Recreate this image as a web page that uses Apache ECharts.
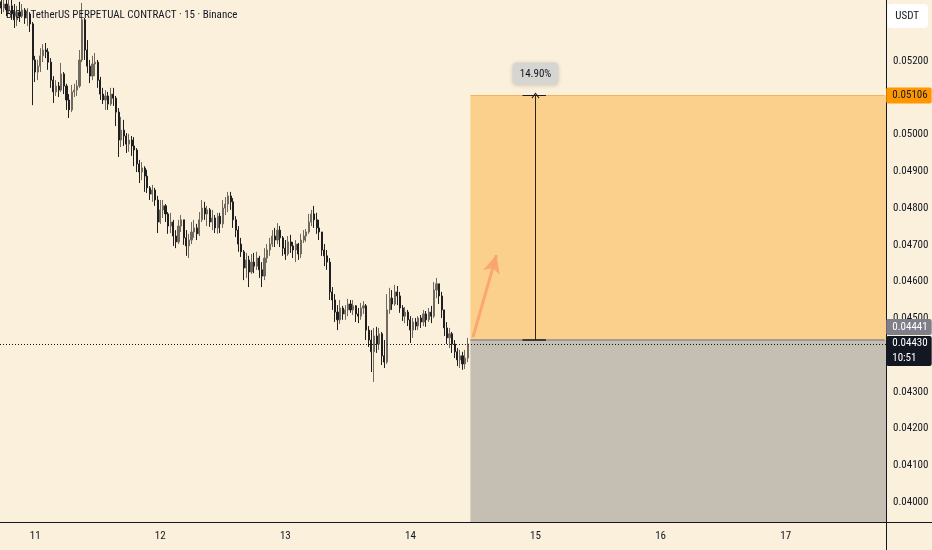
<!DOCTYPE html>
<html><head><meta charset="utf-8">
<script src="https://cdn.jsdelivr.net/npm/echarts@6/dist/echarts.min.js"></script>
<style>html,body{margin:0;padding:0;background:#fbf0dc}#c{width:932px;height:550px}</style>
</head><body><div id="c"></div>
<script>
// ---------------- data ----------------
const titleText = 'BIO / TetherUS PERPETUAL CONTRACT · 15 · Binance';
const currency = 'USDT';
// 30-minute candles [open, close, low, high], starting 10 17:30
const candles = [
[0.05361,0.05344,0.05328,0.05393],[0.05344,0.05355,0.05333,0.05388],[0.05355,0.05339,0.05322,0.05371],[0.05339,0.05350,0.05328,0.05382],
[0.05350,0.05328,0.05312,0.05366],[0.05328,0.05312,0.05290,0.05355],[0.05312,0.05333,0.05295,0.05350],[0.05333,0.05322,0.05306,0.05361],
[0.05322,0.05339,0.05317,0.05355],[0.05339,0.05317,0.05301,0.05344],[0.05317,0.05328,0.05295,0.05344],[0.05328,0.05301,0.05279,0.05333],
[0.05301,0.05203,0.05080,0.05306],[0.05203,0.05170,0.05143,0.05214],[0.05170,0.05186,0.05148,0.05203],[0.05186,0.05214,0.05170,0.05235],
[0.05214,0.05230,0.05197,0.05246],[0.05230,0.05225,0.05208,0.05249],[0.05225,0.05197,0.05176,0.05235],[0.05197,0.05148,0.05127,0.05208],
[0.05148,0.05116,0.05086,0.05159],[0.05116,0.05132,0.05105,0.05148],[0.05132,0.05121,0.05102,0.05143],[0.05121,0.05165,0.05116,0.05195],
[0.05165,0.05132,0.05110,0.05170],[0.05132,0.05094,0.05067,0.05138],[0.05094,0.05067,0.05045,0.05110],[0.05067,0.05116,0.05061,0.05135],
[0.05116,0.05121,0.05102,0.05138],[0.05121,0.05132,0.05105,0.05148],[0.05132,0.05203,0.05127,0.05230],[0.05203,0.05312,0.05197,0.05358],
[0.05312,0.05230,0.05203,0.05317],[0.05230,0.05186,0.05167,0.05257],[0.05186,0.05159,0.05140,0.05203],[0.05159,0.05192,0.05148,0.05214],
[0.05192,0.05197,0.05159,0.05222],[0.05197,0.05148,0.05127,0.05203],[0.05148,0.05110,0.05094,0.05157],[0.05110,0.05094,0.05083,0.05127],
[0.05094,0.05105,0.05067,0.05121],[0.05105,0.05083,0.05067,0.05116],[0.05083,0.05110,0.05078,0.05127],[0.05110,0.05099,0.05078,0.05127],
[0.05099,0.05061,0.05023,0.05105],[0.05061,0.04985,0.04939,0.05072],[0.04985,0.05012,0.04966,0.05048],[0.05012,0.04996,0.04969,0.05040],
[0.04996,0.04974,0.04950,0.05004],[0.04974,0.04985,0.04953,0.05002],[0.04985,0.04969,0.04942,0.04996],[0.04969,0.04958,0.04914,0.04993],
[0.04958,0.04920,0.04898,0.04963],[0.04920,0.04898,0.04868,0.04931],[0.04898,0.04909,0.04876,0.04925],[0.04909,0.04887,0.04844,0.04914],
[0.04887,0.04855,0.04841,0.04904],[0.04855,0.04838,0.04822,0.04860],[0.04838,0.04849,0.04817,0.04863],[0.04849,0.04822,0.04806,0.04855],
[0.04822,0.04762,0.04732,0.04833],[0.04762,0.04795,0.04757,0.04822],[0.04795,0.04806,0.04773,0.04822],[0.04806,0.04784,0.04762,0.04811],
[0.04784,0.04751,0.04730,0.04789],[0.04751,0.04762,0.04732,0.04787],[0.04762,0.04724,0.04697,0.04768],[0.04724,0.04708,0.04691,0.04740],
[0.04708,0.04751,0.04702,0.04768],[0.04751,0.04768,0.04735,0.04781],[0.04768,0.04719,0.04700,0.04768],[0.04719,0.04697,0.04670,0.04740],
[0.04697,0.04713,0.04664,0.04730],[0.04713,0.04735,0.04702,0.04762],[0.04735,0.04746,0.04719,0.04768],[0.04746,0.04730,0.04713,0.04757],
[0.04730,0.04768,0.04724,0.04789],[0.04768,0.04800,0.04762,0.04822],[0.04800,0.04784,0.04768,0.04817],[0.04784,0.04795,0.04751,0.04806],
[0.04795,0.04762,0.04749,0.04800],[0.04762,0.04773,0.04740,0.04795],[0.04773,0.04746,0.04732,0.04781],[0.04746,0.04778,0.04730,0.04787],
[0.04778,0.04757,0.04732,0.04787],[0.04757,0.04800,0.04746,0.04822],[0.04800,0.04811,0.04781,0.04830],[0.04811,0.04833,0.04789,0.04844],
[0.04833,0.04817,0.04795,0.04844],[0.04817,0.04768,0.04746,0.04827],[0.04768,0.04740,0.04721,0.04778],[0.04740,0.04702,0.04681,0.04751],
[0.04702,0.04681,0.04667,0.04719],[0.04681,0.04637,0.04604,0.04686],[0.04637,0.04659,0.04610,0.04678],[0.04659,0.04626,0.04585,0.04670],
[0.04626,0.04653,0.04621,0.04675],[0.04653,0.04642,0.04623,0.04678],[0.04642,0.04664,0.04632,0.04681],[0.04664,0.04632,0.04610,0.04670],
[0.04632,0.04615,0.04585,0.04653],[0.04615,0.04664,0.04604,0.04691],[0.04664,0.04686,0.04651,0.04702],[0.04686,0.04702,0.04670,0.04719],
[0.04702,0.04724,0.04694,0.04740],[0.04724,0.04713,0.04694,0.04746],[0.04713,0.04740,0.04702,0.04759],[0.04740,0.04719,0.04694,0.04751],
[0.04719,0.04691,0.04670,0.04724],[0.04691,0.04675,0.04659,0.04713],[0.04675,0.04708,0.04670,0.04724],[0.04708,0.04697,0.04678,0.04727],
[0.04697,0.04686,0.04664,0.04708],[0.04686,0.04702,0.04653,0.04713],[0.04702,0.04675,0.04659,0.04705],[0.04675,0.04713,0.04664,0.04730],
[0.04713,0.04724,0.04705,0.04740],[0.04724,0.04735,0.04708,0.04743],[0.04735,0.04762,0.04730,0.04784],[0.04762,0.04784,0.04751,0.04795],
[0.04784,0.04768,0.04746,0.04806],[0.04768,0.04746,0.04730,0.04787],[0.04746,0.04735,0.04713,0.04768],[0.04735,0.04686,0.04670,0.04735],
[0.04686,0.04670,0.04642,0.04702],[0.04670,0.04653,0.04632,0.04686],[0.04653,0.04572,0.04550,0.04664],[0.04572,0.04550,0.04523,0.04585],
[0.04550,0.04517,0.04490,0.04566],[0.04517,0.04496,0.04468,0.04536],[0.04496,0.04528,0.04485,0.04550],[0.04528,0.04512,0.04496,0.04534],
[0.04512,0.04523,0.04496,0.04536],[0.04523,0.04539,0.04506,0.04553],[0.04539,0.04523,0.04515,0.04550],[0.04523,0.04534,0.04509,0.04550],
[0.04534,0.04512,0.04490,0.04536],[0.04512,0.04506,0.04487,0.04528],[0.04506,0.04528,0.04496,0.04542],[0.04528,0.04534,0.04512,0.04547],
[0.04534,0.04468,0.04441,0.04539],[0.04468,0.04441,0.04422,0.04479],[0.04441,0.04409,0.04354,0.04468],[0.04409,0.04452,0.04327,0.04474],
[0.04452,0.04430,0.04406,0.04477],[0.04430,0.04458,0.04414,0.04474],[0.04458,0.04398,0.04373,0.04463],[0.04398,0.04381,0.04365,0.04441],
[0.04381,0.04523,0.04376,0.04566],[0.04523,0.04555,0.04512,0.04583],[0.04555,0.04539,0.04523,0.04577],[0.04539,0.04572,0.04534,0.04591],
[0.04572,0.04561,0.04536,0.04588],[0.04561,0.04528,0.04515,0.04572],[0.04528,0.04506,0.04493,0.04536],[0.04506,0.04517,0.04487,0.04531],
[0.04517,0.04496,0.04479,0.04523],[0.04496,0.04468,0.04433,0.04506],[0.04468,0.04490,0.04447,0.04501],[0.04490,0.04479,0.04468,0.04501],
[0.04479,0.04501,0.04468,0.04506],[0.04501,0.04490,0.04474,0.04509],[0.04490,0.04512,0.04479,0.04523],[0.04512,0.04496,0.04477,0.04520],
[0.04496,0.04517,0.04490,0.04528],[0.04517,0.04506,0.04487,0.04534],[0.04506,0.04577,0.04501,0.04599],[0.04577,0.04594,0.04555,0.04610],
[0.04594,0.04561,0.04539,0.04594],[0.04561,0.04523,0.04501,0.04572],[0.04523,0.04474,0.04452,0.04523],[0.04474,0.04447,0.04430,0.04490],
[0.04447,0.04458,0.04419,0.04474],[0.04458,0.04430,0.04406,0.04463],[0.04430,0.04409,0.04392,0.04441],[0.04409,0.04387,0.04370,0.04419],
[0.04387,0.04398,0.04365,0.04414],[0.04398,0.04376,0.04360,0.04409],[0.04376,0.04392,0.04362,0.04414],[0.04392,0.04430,0.04381,0.04447]
];
const priceTicks = [0.040, 0.041, 0.042, 0.043, 0.045, 0.046, 0.047, 0.048, 0.049, 0.050, 0.052];
const entryPrice = 0.04441;
const targetPrice = 0.05106;
const lastPrice = 0.04430;
const countdown = '10:51';
const moveLabel = '14.90%';
const arrowFrom = [181, 0.04449];
const arrowTo = [190, 0.04672];
const axisMin = 0.03946, axisMax = 0.05366;
const totalSlots = 340;          // 30-minute slots on the time axis
const firstSlotHalfHour = 35;    // first slot = day 10, 17:30
const firstDay = 10;
const boxStartIdx = 180, measureIdx = 205, tickFromIdx = 200, tickToIdx = 209;

// ---------------- build ----------------
const categories = [];
for (let s = 0; s < totalSlots; s++) {
  const h = s + firstSlotHalfHour;
  const day = firstDay + Math.floor(h / 48);
  const mins = (h % 48) * 30;
  categories.push(day + ' ' + String(Math.floor(mins / 60)).padStart(2, '0') + ':' + String(mins % 60).padStart(2, '0'));
}
const lastIdx = totalSlots - 1;
const FONT = '"Liberation Sans Narrow", "Roboto Condensed", "Arial Narrow", Roboto, sans-serif';
const TXT = '#131722';

const chart = echarts.init(document.getElementById('c'), null, {renderer: 'canvas'});
chart.setOption({
  animation: false,
  backgroundColor: '#fbf0dc',
  title: [
    {text: titleText, left: 6, top: 10, padding: 0, textStyle: {fontSize: 11, fontWeight: 'normal', color: TXT, fontFamily: FONT}},
    {text: currency, right: 4, top: 4, backgroundColor: '#ffffff', borderRadius: 4, padding: [7, 9, 6, 8],
      textStyle: {fontSize: 11, fontWeight: 'normal', color: TXT, fontFamily: FONT}}
  ],
  grid: {left: 0, right: 46, top: 0, bottom: 28, outerBoundsMode: 'none', containLabel: false},
  xAxis: {
    type: 'category', data: categories, boundaryGap: true,
    axisLine: {lineStyle: {color: TXT, width: 1}},
    axisTick: {show: false},
    splitLine: {show: false},
    axisLabel: {
      interval: (i, v) => v.endsWith(' 00:00'),
      formatter: v => v.split(' ')[0],
      color: TXT, fontSize: 11, margin: 9, fontFamily: FONT
    }
  },
  yAxis: {
    type: 'value', position: 'right', min: axisMin, max: axisMax,
    axisLine: {show: true, lineStyle: {color: TXT, width: 1}},
    axisTick: {show: false},
    splitLine: {show: false},
    axisLabel: {customValues: priceTicks, formatter: v => v.toFixed(5), color: TXT, fontSize: 11, margin: 7, fontFamily: FONT}
  },
  graphic: [
    {type: 'line', shape: {x1: 886, y1: 522.5, x2: 932, y2: 522.5}, style: {stroke: TXT, lineWidth: 1}, silent: true},
    {type: 'line', shape: {x1: 886.5, y1: 522, x2: 886.5, y2: 550}, style: {stroke: TXT, lineWidth: 1}, silent: true}
  ],
  series: [
    {
      type: 'candlestick', data: candles, barWidth: 1.6, clip: true, z: 2,
      itemStyle: {color: '#6f695f', color0: '#1f1f1f', borderColor: '#6f695f', borderColor0: '#1f1f1f', borderWidth: 1},
      markArea: {
        silent: true,
        data: [
          [{xAxis: categories[boxStartIdx], yAxis: entryPrice, itemStyle: {color: '#fbd08c'}}, {xAxis: Infinity, yAxis: targetPrice}],
          [{xAxis: categories[boxStartIdx], yAxis: axisMin, itemStyle: {color: '#c5bfb3'}}, {xAxis: Infinity, yAxis: entryPrice}]
        ]
      },
      markLine: {
        silent: true, precision: 5, symbol: ['none', 'none'], label: {show: false}, animation: false,
        data: [
          {yAxis: lastPrice, lineStyle: {type: [1, 2], color: TXT, width: 1}}
        ]
      }
    },
    {
      type: 'line', data: [], z: 5,
      markLine: {
        silent: true, precision: 5, symbol: ['none', 'none'], label: {show: false}, animation: false,
        data: [
          [{coord: [boxStartIdx, targetPrice], lineStyle: {type: 'solid', color: '#f4b35a', width: 1}}, {coord: [lastIdx, targetPrice]}],
          [{coord: [boxStartIdx, entryPrice], lineStyle: {type: 'solid', color: '#8d8d8d', width: 1.5}}, {coord: [lastIdx, entryPrice]}],
          [{coord: [measureIdx, entryPrice], lineStyle: {type: 'solid', color: '#2a241a', width: 1},
            label: {show: true, position: 'end', formatter: moveLabel, distance: 11, backgroundColor: '#d6d5d2',
              borderRadius: 4, padding: [6, 7, 5, 7], color: TXT, fontSize: 11, fontFamily: FONT,
              shadowBlur: 4, shadowColor: 'rgba(0,0,0,0.18)', shadowOffsetY: 1}},
           {coord: [measureIdx, targetPrice], symbol: 'path://M0,6 L5,0 L10,6 L9,7 L5,2 L1,7 Z', symbolSize: [8, 6]}],
          [{coord: [tickFromIdx, targetPrice], lineStyle: {type: 'solid', color: '#1e1e1e', width: 1}}, {coord: [tickToIdx, targetPrice]}],
          [{coord: [tickFromIdx, entryPrice], lineStyle: {type: 'solid', color: '#1e1e1e', width: 1.5}}, {coord: [tickToIdx, entryPrice]}],
          [{coord: arrowFrom, lineStyle: {type: 'solid', color: '#f8a36c', width: 3, opacity: 0.9}},
           {coord: arrowTo, symbol: 'arrow', symbolSize: [13, 18]}]
        ]
      },
      markPoint: {
        silent: true, symbol: 'rect', symbolSize: 1, itemStyle: {color: 'rgba(0,0,0,0)'},
        label: {show: true, position: 'right', distance: 1, fontSize: 11, fontFamily: FONT, padding: [2, 4, 1, 6],
          lineHeight: 13, borderRadius: 2, align: 'left'},
        data: [
          {coord: [lastIdx, targetPrice], label: {formatter: targetPrice.toFixed(5), backgroundColor: '#ff9800', color: TXT}},
          {coord: [lastIdx, entryPrice], label: {formatter: entryPrice.toFixed(5), backgroundColor: '#7e7f88', color: '#ffffff', offset: [0, -13]}},
          {coord: [lastIdx, lastPrice], label: {formatter: lastPrice.toFixed(5) + '\n' + countdown, backgroundColor: '#131722', color: '#ffffff', offset: [0, 7], padding: [0, 4, 0, 6], lineHeight: 15}}
        ]
      }
    }
  ]
});
</script></body></html>
